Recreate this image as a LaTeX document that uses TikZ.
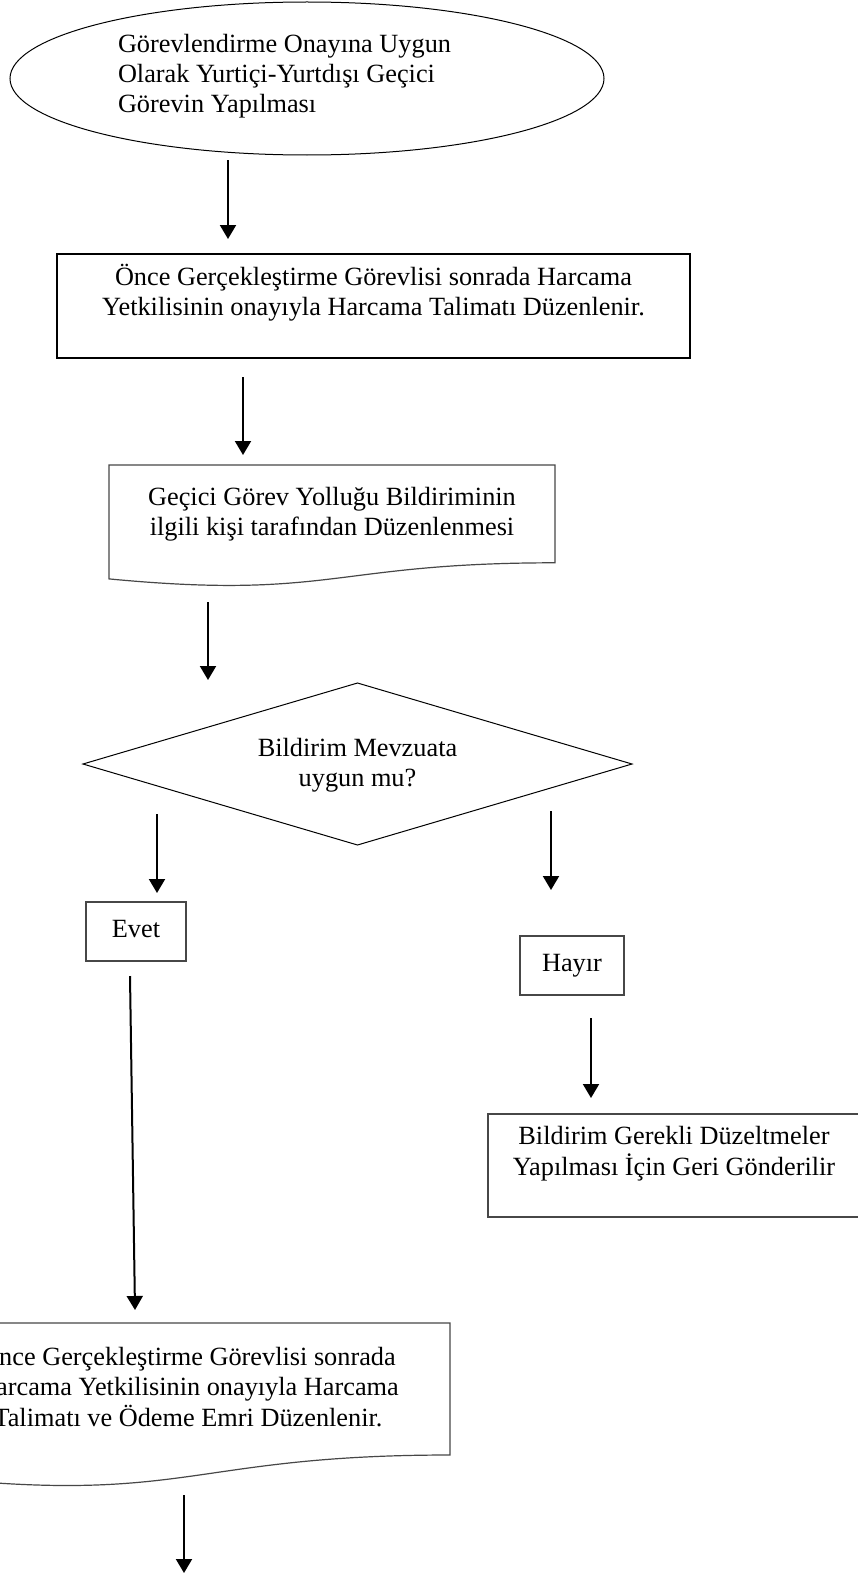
\documentclass[tikz,border=0pt]{standalone}
\usepackage{fontspec}
\setmainfont{Liberation Serif}
\usetikzlibrary{shapes.geometric,arrows.meta,calc}
\begin{document}
\begin{tikzpicture}[x=1pt,y=-1pt,
  every node/.style={inner sep=0pt, outer sep=0pt},
  txt/.style={font=\fontsize{26.3}{30.2}\selectfont, align=center, anchor=north, text=black},
  thin/.style={draw=black, line width=1pt},
  gbox/.style={draw=black!72, line width=1.2pt},
  arr/.style={line width=2pt, -{Triangle[width=16pt,length=14pt]}},
]
\useasboundingbox (0,0) rectangle (858,1576);
\fill[white] (0,0) rectangle (858,1576);
\clip (0,0) rectangle (858,1576);

% start ellipse
\node[thin, ellipse, minimum width=594pt, minimum height=153pt] (ell) at (307,78.5) {};
\node[txt, align=left, anchor=north west] (ellt) at (118,31) {\strut Görevlendirme Onayına Uygun\\\strut Olarak Yurtiçi-Yurtdışı Geçici\\\strut Görevin Yapılması};

% rectangle 2
\node[draw=black, line width=2pt, minimum width=633pt, minimum height=104pt, anchor=north west] (r2) at (57,254) {};
\node[txt] (r2t) at (373.5,264) {\strut Önce Gerçekleştirme Görevlisi sonrada Harcama\\\strut Yetkilisinin onayıyla Harcama Talimatı Düzenlenir.};

% document 3
\draw[gbox] (109,465) -- (555,465) -- (555,562.8)
  .. controls (332,562.8) and (332,600.1) .. (109,578.9) -- cycle;
\node[txt] (d3) at (332,484) {\strut Geçici Görev Yolluğu Bildiriminin\\\strut ilgili kişi tarafından Düzenlenmesi};

% decision
\node[minimum width=549pt, minimum height=162pt] (dia) at (357.5,764) {};
\draw[thin] (dia.north) -- (dia.east) -- (dia.south) -- (dia.west) -- cycle;
\node[txt] (diat) at (357.5,735) {\strut Bildirim Mevzuata\\\strut uygun mu?};

% Evet / Hayir
\node[gbox, minimum width=100pt, minimum height=59pt, anchor=north west] (evet) at (86,902) {};
\node[txt] (evett) at (136,916.4) {\strut Evet};
\node[gbox, minimum width=104pt, minimum height=59pt, anchor=north west] (hayir) at (520,936) {};
\node[txt] (hayirt) at (572,950.4) {\strut Hayır};

% Bildirim box
\node[gbox, minimum width=374pt, minimum height=103pt, anchor=north west] (bild) at (488,1114) {};
\node[txt] (bildt) at (674,1123) {\strut Bildirim Gerekli Düzeltmeler\\\strut Yapılması İçin Geri Gönderilir};

% document 5
\draw[gbox] (-74,1323) -- (450,1323) -- (450,1455)
  .. controls (188,1455) and (188,1505.3) .. (-74,1476.7) -- cycle;
\node[txt] (d5) at (188,1344) {\strut Önce Gerçekleştirme Görevlisi sonrada\\\strut Harcama Yetkilisinin onayıyla Harcama\\\strut Talimatı ve Ödeme Emri Düzenlenir.};

% connector end points
\coordinate (a1s) at (228,160);  \coordinate (a1e) at (228,239);
\coordinate (a2s) at (243,377);  \coordinate (a2e) at (243,455);
\coordinate (a3s) at (208,602);  \coordinate (a3e) at (208,680);
\coordinate (aEs) at (157,814);  \coordinate (aEe) at (157,893);
\coordinate (aHs) at (551,811);  \coordinate (aHe) at (551,890);
\coordinate (aLs) at (130,976);  \coordinate (aLe) at (135,1310);
\coordinate (aBs) at (591,1018); \coordinate (aBe) at (591,1098);
\coordinate (aFs) at (184,1495); \coordinate (aFe) at (184,1573);

\draw[arr] (a1s) -- (a1e);
\draw[arr] (a2s) -- (a2e);
\draw[arr] (a3s) -- (a3e);
\draw[arr] (aEs) -- (aEe);
\draw[arr] (aHs) -- (aHe);
\draw[arr] (aLs) -- (aLe);
\draw[arr] (aBs) -- (aBe);
\draw[arr] (aFs) -- (aFe);
\end{tikzpicture}
\end{document}
